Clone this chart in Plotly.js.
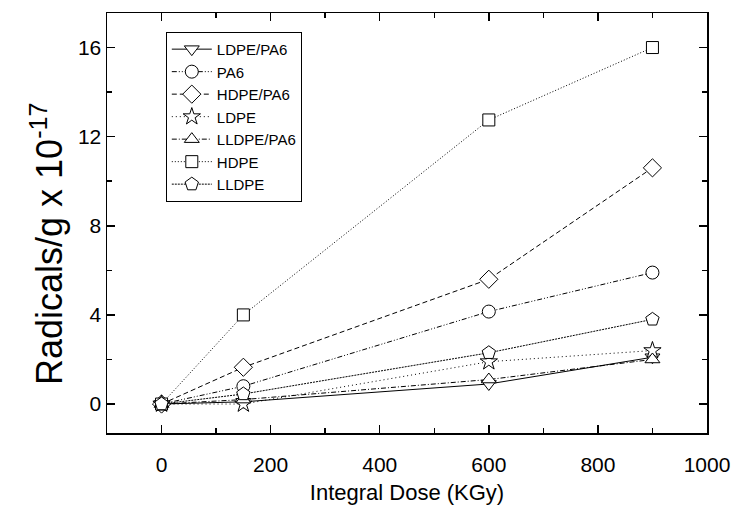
<!DOCTYPE html>
<html>
<head>
<meta charset="utf-8">
<script src="https://cdn.plot.ly/plotly-3.0.1.min.js"></script>
<style>html,body{margin:0;padding:0;background:#fff;}#chart{width:736px;height:507px;}</style>
</head>
<body>
<div id="chart"></div>
<script>
// Integral dose (KGy)
const dose = [0, 150, 600, 900];
// Radicals/g x 10^-17
const ldpePa6  = [0, 0.1, 0.9, 2.1];
const pa6      = [0, 0.8, 4.15, 5.9];
const hdpePa6  = [0, 1.65, 5.6, 10.6];
const ldpe     = [0, 0.0, 1.9, 2.4];
const lldpePa6 = [0, 0.2, 1.1, 2.0];
const hdpe     = [0, 4.0, 12.75, 16.0];
const lldpe    = [0, 0.45, 2.3, 3.8];

const seriesNames = ['LDPE/PA6', 'PA6', 'HDPE/PA6', 'LDPE', 'LLDPE/PA6', 'HDPE', 'LLDPE'];
const seriesValues = [ldpePa6, pa6, hdpePa6, ldpe, lldpePa6, hdpe, lldpe];
const symbols = ['triangle-down', 'circle', 'diamond', 'star', 'triangle-up', 'square', 'pentagon'];
const dashes = ['solid', '5px,2px,1px,2px,1px,2px', '5px,3px', '1px,3px', '5px,2px,1px,2px', '1px,2px', '2px,1px'];
const sizes = [13, 13, 14, 13, 13, 12, 14];

const xTitle = 'Integral Dose (KGy)';
const yTitle = 'Radicals/g x 10<sup>-17</sup>';

const traces = seriesNames.map((n, i) => ({
  x: dose,
  y: seriesValues[i],
  name: n,
  type: 'scatter',
  mode: 'lines+markers',
  line: {color: '#000', width: 1, dash: dashes[i]},
  marker: {symbol: symbols[i], size: sizes[i], color: '#fff', line: {color: '#000', width: 1}}
}));

const fontFam = 'Liberation Sans, Arial, Helvetica, sans-serif';
const layout = {
  width: 736, height: 507,
  margin: {l: 107, r: 29, t: 13, b: 74},
  paper_bgcolor: '#fff', plot_bgcolor: '#fff',
  font: {family: fontFam, color: '#000'},
  showlegend: true,
  legend: {
    x: 0.098, y: 0.955, xanchor: 'left', yanchor: 'top',
    bordercolor: '#000', borderwidth: 1, bgcolor: '#fff',
    font: {size: 15, family: fontFam, color: '#000'},
    itemwidth: 40,
    tracegroupgap: 0
  },
  xaxis: {
    range: [-100, 1000], tickvals: [0, 200, 400, 600, 800, 1000],
    ticks: 'inside', ticklen: 8, tickwidth: 1.5, tickcolor: '#000',
    minor: {tickvals: [-100, 100, 300, 500, 700, 900], ticks: 'inside', ticklen: 5, tickwidth: 1.5, tickcolor: '#000'},
    showline: true, linecolor: '#000', linewidth: 1.5, mirror: 'ticks',
    showgrid: false, zeroline: false,
    ticklabelstandoff: 12,
    tickfont: {size: 21, family: fontFam},
    title: {text: xTitle, font: {size: 22, family: fontFam}, standoff: 10}
  },
  yaxis: {
    range: [-1.3, 17.55], tickvals: [0, 4, 8, 12, 16],
    ticks: 'inside', ticklen: 8, tickwidth: 1.5, tickcolor: '#000',
    minor: {tickvals: [2, 6, 10, 14], ticks: 'inside', ticklen: 5, tickwidth: 1.5, tickcolor: '#000'},
    showline: true, linecolor: '#000', linewidth: 1.5, mirror: 'ticks',
    showgrid: false, zeroline: false,
    tickfont: {size: 21, family: fontFam}
  },
  annotations: [{
    text: yTitle, textangle: -90, showarrow: false,
    xref: 'paper', yref: 'paper', x: -0.1, y: 0.45,
    xanchor: 'center', yanchor: 'middle',
    font: {size: 36, family: fontFam, color: '#000'}
  }]
};

Plotly.newPlot('chart', traces, layout, {staticPlot: true, displayModeBar: false});
</script>
</body>
</html>
